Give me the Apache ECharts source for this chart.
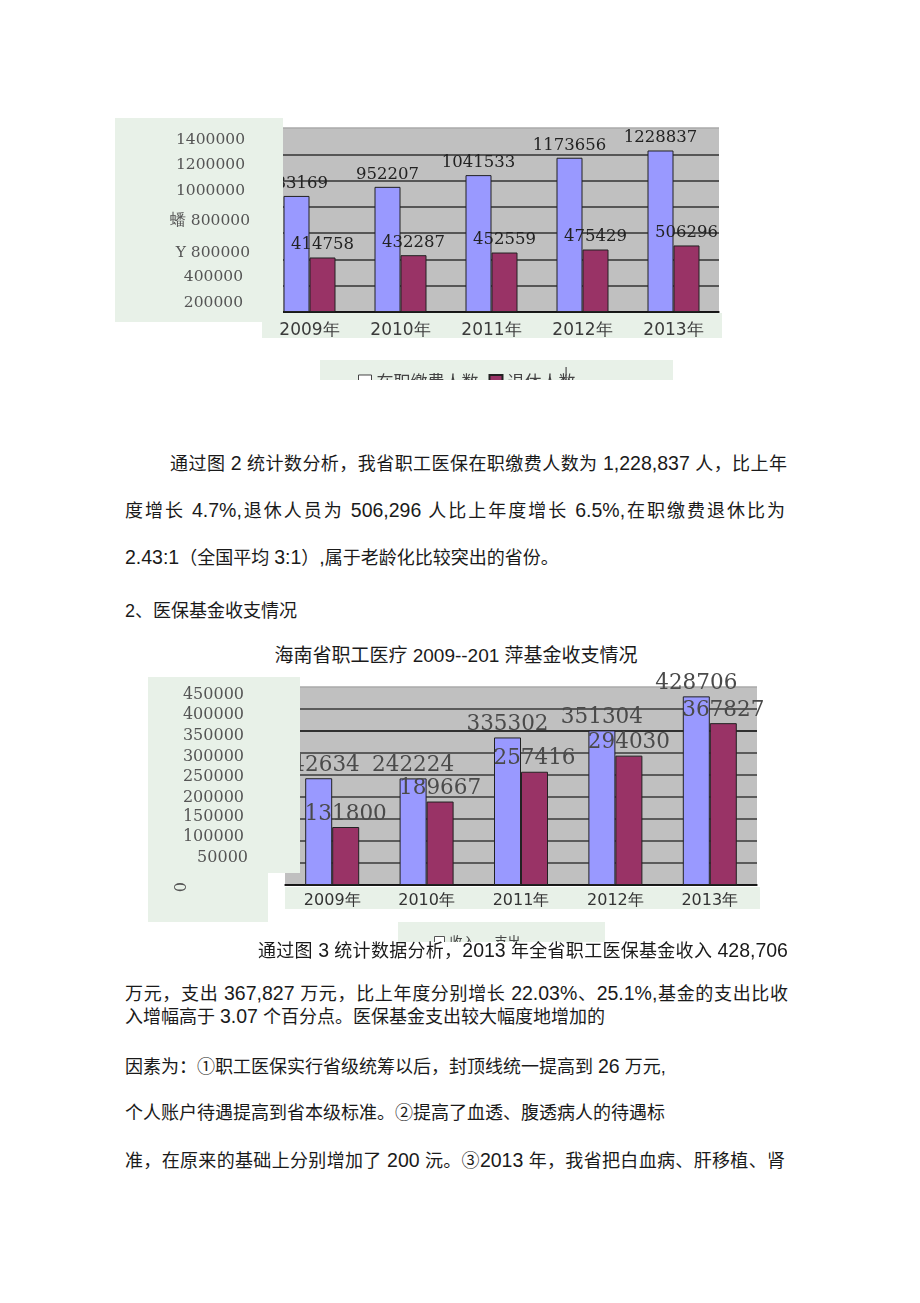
<!DOCTYPE html>
<html><head><meta charset="utf-8">
<script src="https://cdn.jsdelivr.net/npm/echarts@6/dist/echarts.min.js"></script>
<style>
html,body{margin:0;padding:0;background:#fff;}
body{width:920px;height:1303px;position:relative;overflow:hidden;font-family:"Liberation Sans","Noto Sans CJK SC",sans-serif;color:#1a1a1a;}
.ln{position:absolute;font-size:18px;line-height:24px;height:24px;white-space:nowrap;z-index:5;}
.j{text-align:justify;text-align-last:justify;white-space:normal;}
.n{font-size:19.5px;}
#c1{position:absolute;left:100px;top:100px;width:640px;height:300px;}
#c2{position:absolute;left:130px;top:670px;width:650px;height:280px;}
</style></head><body>
<div id="c1"></div>
<div id="c2"></div>
<div class="ln j" style="left:170px;top:451px;width:617px">通过图 <span class="n">2</span> 统计数分析，我省职工医保在职缴费人数为 <span class="n">1,228,837</span> 人，比上年</div>
<div class="ln j" style="left:125px;top:498px;width:660px">度增长 <span class="n">4.7%,</span>退休人员为 <span class="n">506,296</span> 人比上年度增长 <span class="n">6.5%,</span>在职缴费退休比为</div>
<div class="ln" style="left:125px;top:545px;"><span class="n">2.43:1</span>（全国平均 <span class="n">3:1</span>）<span class="n">,</span>属于老龄化比较突出的省份。</div>
<div class="ln" style="left:125px;top:599px;">2、医保基金收支情况</div>
<div class="ln" style="left:256px;top:644px;width:400px;text-align:center;font-size:19px;">海南省职工医疗 2009--201 萍基金收支情况</div>
<div class="ln j" style="left:258px;top:938px;width:530px">通过图 <span class="n">3</span> 统计数据分析，<span class="n">2013</span> 年全省职工医保基金收入 <span class="n">428,706</span></div>
<div class="ln j" style="left:125px;top:981px;width:663px">万元，支出 <span class="n">367,827</span> 万元，比上年度分别增长 <span class="n">22.03%</span>、<span class="n">25.1%,</span>基金的支出比收</div>
<div class="ln" style="left:125px;top:1004px;">入增幅高于 <span class="n">3.07</span> 个百分点。医保基金支出较大幅度地增加的</div>
<div class="ln" style="left:125px;top:1054px;">因素为：①职工医保实行省级统筹以后，封顶线统一提高到 <span class="n">26</span> 万元,</div>
<div class="ln" style="left:125px;top:1101px;">个人账户待遇提高到省本级标准。②提高了血透、腹透病人的待遇标</div>
<div class="ln j" style="left:125px;top:1148px;width:660px">准，在原来的基础上分别增加了 <span class="n">200</span> 沅。③<span class="n">2013</span> 年，我省把白血病、肝移植、肾</div>
<script>
// ---- data ----
const years = ['2009年','2010年','2011年','2012年','2013年'];
const activeWorkers = [883169, 952207, 1041533, 1173656, 1228837];
const retirees = [414758, 432287, 452559, 475429, 506296];
const chart1YTicks = ['1400000','1200000','1000000','蟠 800000','Y 800000','400000','200000'];
const chart1Legend = ['在职缴费人数','退休人数'];
const fundIncome = [242634, 242224, 335302, 351304, 428706];
const fundExpense = [131800, 189667, 257416, 294030, 367827];
const chart2YTicks = ['450000','400000','350000','300000','250000','200000','150000','100000','50000','0'];
const chart2Legend = ['收入','支出'];

// ---- styles ----
const GREEN = '#e8f1e8';
const BLUE = '#9999ff';
const RED = '#993366';
const SERIF = '"DejaVu Serif", serif';

// ---- chart 1 ----
const c1 = echarts.init(document.getElementById('c1'));
const y1Layout = [[145,40],[145,65],[145,91],[150,121],[150,153],[143,177],[143,203]];
const g1 = [
  {type:'rect', z:-1, silent:true, shape:{x:162,y:213,width:460,height:25}, style:{fill:GREEN}},
  {type:'rect', z:-1, silent:true, shape:{x:220,y:260,width:353,height:20}, style:{fill:GREEN}},
  {type:'rect', z:100, silent:true, shape:{x:15,y:18,width:168,height:204}, style:{fill:GREEN}},
  {type:'text', z:60, silent:true, style:{text:'|', x:466, y:277, textAlign:'center', textVerticalAlign:'middle', font:'17px "DejaVu Sans"', fill:'#666'}},
  {type:'rect', z:200, silent:true, shape:{x:0,y:280,width:640,height:20}, style:{fill:'#fff'}}
];
chart1YTicks.forEach((t,i)=>{
  g1.push({type:'text', z:101, silent:true, style:{text:t, x:y1Layout[i][0], y:y1Layout[i][1], textAlign:'right', textVerticalAlign:'middle', font:'15.5px ' + SERIF, fill:'#555'}});
});
const lab1 = {show:true, position:'top', distance:4, fontFamily:SERIF, fontSize:16.5, color:'#222'};
c1.setOption({
  animation:false,
  grid:{left:164, top:28, width:455, height:184, show:true, backgroundColor:'#c0c0c0', borderWidth:0},
  legend:{
    data:[{name:chart1Legend[0], itemStyle:{color:'#fff', borderColor:'#444', borderWidth:1}}, {name:chart1Legend[1]}],
    left:253, top:268, itemWidth:13, itemHeight:13, itemGap:10, icon:'rect',
    textStyle:{fontFamily:'"Noto Sans CJK SC"', fontSize:17, color:'#444'}
  },
  xAxis:{type:'category', data:years,
    axisLine:{lineStyle:{color:'#000', width:1.5}},
    axisTick:{inside:true, length:5, lineStyle:{color:'#000'}},
    axisLabel:{margin:10, fontFamily:'"DejaVu Sans"', fontSize:17, color:'#3a3a3a'}},
  yAxis:{type:'value', min:0, max:1400000, interval:200000,
    axisLine:{show:false}, axisTick:{show:false}, axisLabel:{show:false},
    splitLine:{lineStyle:{color:['#333','#333','#333','#333','#333','#333','#333','#aaa'], width:1.5}}},
  series:[
    {name:chart1Legend[0], type:'bar', data:activeWorkers, barWidth:26, barGap:'0%',
     itemStyle:{color:BLUE, borderColor:'#222', borderWidth:1}, label:lab1},
    {name:chart1Legend[1], type:'bar', data:retirees, barWidth:26, barGap:'0%',
     itemStyle:{color:RED, borderColor:'#222', borderWidth:1}, label:lab1}
  ],
  graphic:g1
});

// ---- chart 2 ----
const c2 = echarts.init(document.getElementById('c2'));
const y2Layout = [[114,25],[114,45],[114,66],[114,87],[114,107],[114,128],[114,147],[114,167],[118,188],[48,217]];
const g2 = [
  {type:'rect', z:-1, silent:true, shape:{x:155,y:217,width:475,height:22}, style:{fill:GREEN}},
  {type:'rect', z:-1, silent:true, shape:{x:268,y:252,width:207,height:20}, style:{fill:GREEN}},
  {type:'rect', z:100, silent:true, shape:{x:18,y:7,width:152,height:196}, style:{fill:GREEN}},
  {type:'rect', z:100, silent:true, shape:{x:18,y:203,width:120,height:49}, style:{fill:GREEN}},
  {type:'rect', z:200, silent:true, shape:{x:0,y:272,width:650,height:8}, style:{fill:'#fff'}}
];
chart2YTicks.forEach((t,i)=>{
  const last = i === chart2YTicks.length - 1;
  g2.push({type:'text', z:101, silent:true, x:y2Layout[i][0], y:y2Layout[i][1], rotation: last ? -Math.PI/2 : 0,
    style:{text:t, x:0, y:0, textAlign: last ? 'center' : 'right', textVerticalAlign:'middle', font:'16px ' + SERIF, fill:'#555'}});
});
const lab2 = {show:true, position:'top', distance:2, fontFamily:SERIF, fontSize:21.5, color:'#4a4a4a'};
c2.setOption({
  animation:false,
  grid:{left:155, top:17, width:472, height:198, show:true, backgroundColor:'#c0c0c0', borderWidth:0},
  legend:{
    data:[{name:chart2Legend[0], itemStyle:{color:'#fff', borderColor:'#555', borderWidth:1}},
          {name:chart2Legend[1], itemStyle:{color:'rgba(0,0,0,0)', borderWidth:0}}],
    left:299, top:260, itemWidth:10, itemHeight:10, itemGap:4, icon:'rect',
    textStyle:{fontFamily:'"Noto Sans CJK SC"', fontSize:13, color:'#444'}
  },
  xAxis:{type:'category', data:years,
    axisLine:{lineStyle:{color:'#000', width:1.5}},
    axisTick:{inside:true, length:5, lineStyle:{color:'#000'}},
    axisLabel:{margin:8, fontFamily:'"DejaVu Sans"', fontSize:16, color:'#333'}},
  yAxis:{type:'value', min:0, max:450000, interval:50000,
    axisLine:{show:false}, axisTick:{show:false}, axisLabel:{show:false},
    splitLine:{lineStyle:{color:['#3a3a3a','#3a3a3a','#3a3a3a','#3a3a3a','#3a3a3a','#3a3a3a','#3a3a3a','#000','#3a3a3a','#aaa'], width:1.5}}},
  series:[
    {name:chart2Legend[0], type:'bar', data:fundIncome, barWidth:27, barGap:'0%',
     itemStyle:{color:BLUE, borderColor:'#222', borderWidth:1}, label:lab2},
    {name:chart2Legend[1], type:'bar', data:fundExpense, barWidth:27, barGap:'0%',
     itemStyle:{color:RED, borderColor:'#222', borderWidth:1}, label:lab2}
  ],
  graphic:g2
});
</script>
</body></html>
